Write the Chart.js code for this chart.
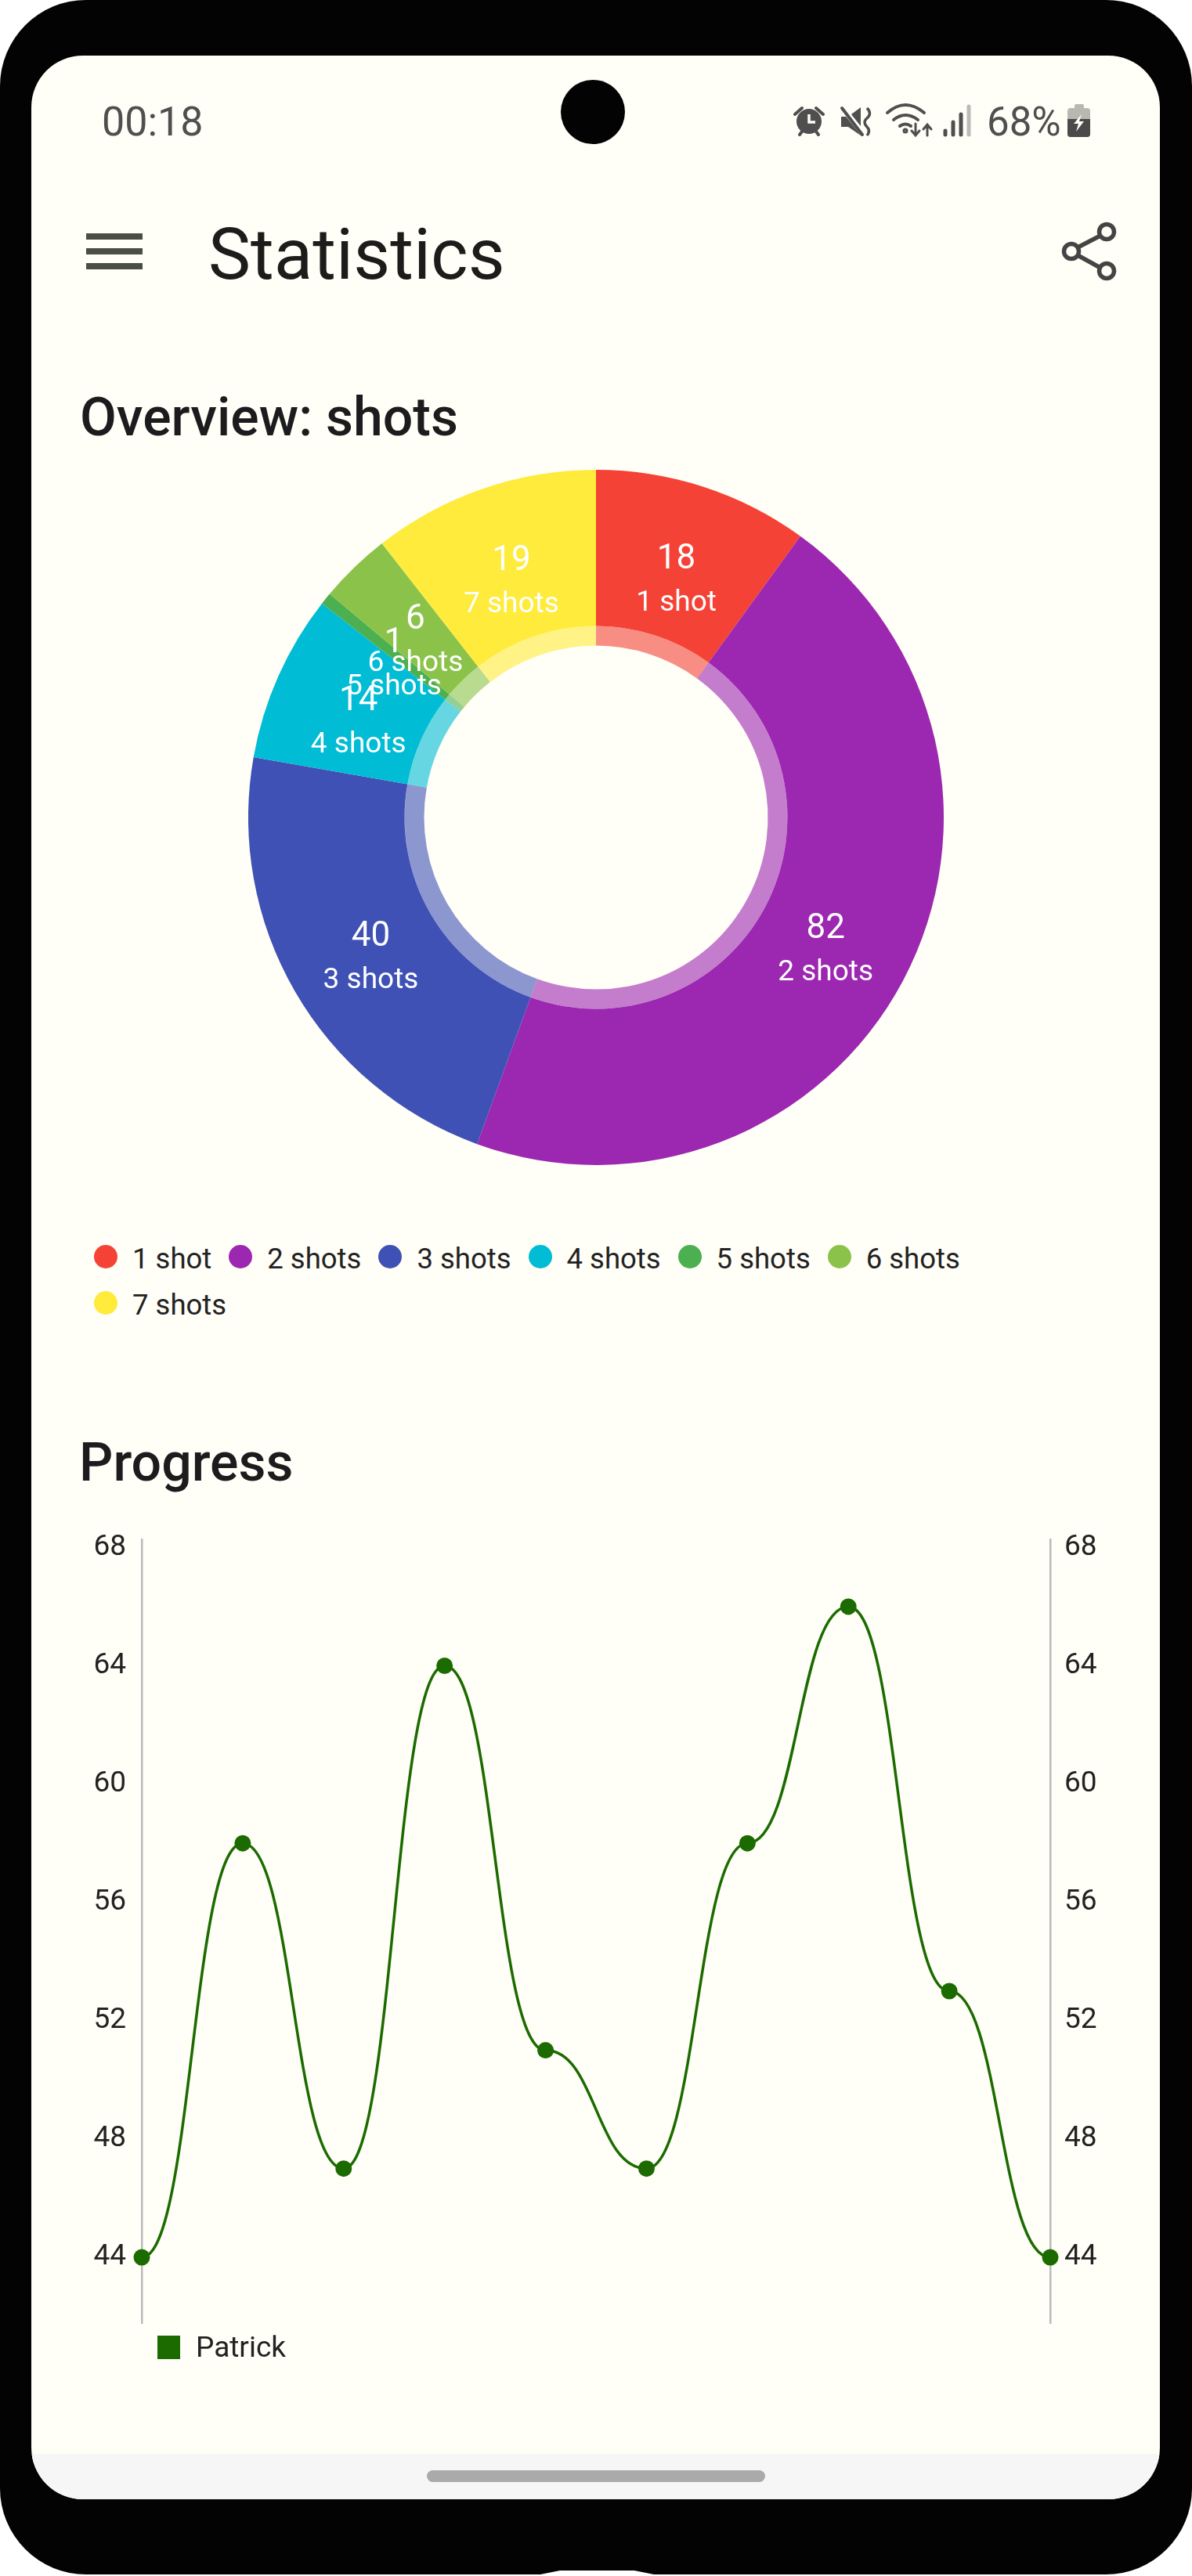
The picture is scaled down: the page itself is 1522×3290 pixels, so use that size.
<!DOCTYPE html>
<html>
<head>
<meta charset="utf-8">
<title>Statistics</title>
<script src="https://cdn.jsdelivr.net/npm/chart.js@4"></script>
<style>
  html, body { margin: 0; padding: 0; background: #fff; }
  body { position: relative; width: 1522px; height: 3290px; overflow: hidden; font-family: Roboto, sans-serif; }
  #phone { position: absolute; left: 0; top: 0; width: 1522px; height: 3288px; background: #030303; border-radius: 110px; }
  #screen { position: absolute; left: 40px; top: 71px; width: 1441px; height: 3121px; background: #fffef7; border-radius: 66px; overflow: hidden; }
  #navbar { position: absolute; left: 0; top: 3063px; width: 1441px; height: 58px; background: #f6f6f6; }
  #homebar { position: absolute; left: 505px; top: 21px; width: 432px; height: 15px; background: #aaa; border-radius: 8px; }
  #chrome { position: absolute; left: 0; top: 0; }
  .txt { position: absolute; line-height: 1; white-space: nowrap; }
  canvas { position: absolute; }
  #shotLegend { position: absolute; left: 120px; top: 1578px; width: 1200px; display: flex; flex-wrap: wrap; font-size: 36.5px; line-height: 59px; color: #222; }
  #shotLegend .item { display: flex; align-items: center; margin-right: 22px; }
  #shotLegend .dot { width: 30px; height: 30px; border-radius: 50%; margin: -5px 19px 0 0; }
  #playerLegend { position: absolute; left: 201px; top: 2983px; display: flex; align-items: center; font-size: 37px; line-height: 30px; color: #222; }
  #playerLegend .box { width: 29px; height: 30px; margin-right: 20px; }
</style>
</head>
<body>
<div id="phone"></div>
<div id="screen"><div id="navbar"><div id="homebar"></div></div></div>

<svg id="chrome" width="1522" height="3290" viewBox="0 0 1522 3290">
  <polygon points="680,3290 715,3283 810,3283 845,3290" fill="#fff"/>
  <circle cx="757" cy="143" r="41" fill="#030303"/>
  <!-- alarm -->
  <g fill="#4f4f4f" stroke="#4f4f4f">
    <circle cx="1033" cy="155" r="16" stroke="none"/>
    <path d="M1015 146 L1024 138 M1051 146 L1042 138 M1021 172 L1024 168 M1045 172 L1042 168" stroke-width="4" stroke-linecap="round" fill="none"/>
    <path d="M1033 146 V156 H1041" stroke="#fffef7" stroke-width="3.5" fill="none"/>
  </g>
  <!-- mute -->
  <g fill="#4f4f4f" stroke="#4f4f4f">
    <path d="M1074 149 H1083 L1099 137 V173 L1083 162 H1074 Z" stroke="none"/>
    <path d="M1076 138 L1104 173" stroke="#fffef7" stroke-width="7"/>
    <path d="M1075 138 L1101 172" stroke-width="4" stroke-linecap="round"/>
    <path d="M1107 138 Q1114 145 1107 151 Q1101 156 1107 162 Q1112 167 1107 173" stroke-width="3.5" fill="none"/>
  </g>
  <!-- wifi -->
  <g fill="none" stroke="#4f4f4f" stroke-width="4" stroke-linecap="round">
    <path d="M1133 144 Q1156 124 1180 144"/>
    <path d="M1141 153 Q1156 141 1172 153"/>
    <path d="M1149 161 Q1156 156 1163 161"/>
    <circle cx="1156" cy="167" r="1.5"/>
    <path d="M1169 158 V172 M1164 167 L1169 173 L1174 167 M1184 173 V160 M1179 165 L1184 159 L1189 165" stroke-width="3"/>
  </g>
  <!-- signal -->
  <g stroke-width="5" stroke-linecap="round" stroke="#4f4f4f">
    <path d="M1207 167 V172"/><path d="M1217 156 V172"/><path d="M1227 146 V172"/>
    <path d="M1237 136 V172" stroke="#bbb"/>
  </g>
  <!-- battery -->
  <rect x="1372" y="133" width="12" height="6" rx="2" fill="#b8b8b0"/>
  <rect x="1363" y="138" width="29" height="37" rx="4" fill="#b8b8b0"/>
  <path d="M1363 152 H1392 V171 a4 4 0 0 1 -4 4 H1367 a4 4 0 0 1 -4 -4 Z" fill="#4a4a4a"/>
  <path d="M1381 146 L1371 158 H1377 L1374 168 L1384 155 H1378 Z" fill="#fffef7"/>
  <!-- menu -->
  <g fill="#4a4f45">
    <rect x="110" y="298" width="72" height="8"/>
    <rect x="110" y="317" width="72" height="8"/>
    <rect x="110" y="336" width="72" height="8"/>
  </g>
  <!-- share -->
  <g fill="none" stroke="#444" stroke-width="5.5">
    <path d="M1376 316 L1405 301 M1376 326 L1405 342"/>
    <circle cx="1413" cy="296" r="9.5"/>
    <circle cx="1368" cy="321" r="9.5"/>
    <circle cx="1413" cy="346" r="9.5"/>
  </g>
</svg>

<div class="txt" style="left:130px;top:130px;font-size:52px;color:#4f4f4f">00:18</div>
<div class="txt" style="left:1260px;top:130px;font-size:51px;color:#4f4f4f">68%</div>
<div class="txt" style="left:266px;top:280px;font-size:91px;color:#1c1c1a">Statistics</div>
<div class="txt" style="left:102px;top:499px;font-size:68px;font-weight:500;color:#1c1c1e">Overview: shots</div>
<div class="txt" style="left:101px;top:1834px;font-size:68px;font-weight:500;color:#1c1c1e">Progress</div>

<canvas id="shotsChart" width="888" height="888" style="left:317px;top:600px"></canvas>
<div id="shotLegend"></div>

<canvas id="progressChart" width="1322" height="1086" style="left:100px;top:1924px"></canvas>
<div id="playerLegend"></div>

<script>
// shots overview
const shotLabels = ['1 shot', '2 shots', '3 shots', '4 shots', '5 shots', '6 shots', '7 shots'];
const shotCounts = [18, 82, 40, 14, 1, 6, 19];
const shotColors = ['#F44336', '#9C27B0', '#3F51B5', '#00BCD4', '#4CAF50', '#8BC34A', '#FFEB3B'];

// progress
const playerName = 'Patrick';
const playerColor = '#1b6b00';
const gameLabels = ['1', '2', '3', '4', '5', '6', '7', '8', '9', '10'];
const playerScores = [44, 58, 47, 64, 51, 47, 58, 66, 53, 44];
const scoreTicks = [44, 48, 52, 56, 60, 64, 68];

Chart.defaults.font.family = 'Roboto';
Chart.defaults.animation = false;

// value and name inside each slice, they overlap on the small slices like the app does
const sliceText = {
  id: 'sliceText',
  afterDatasetsDraw(chart) {
    const ctx = chart.ctx;
    ctx.save();
    ctx.fillStyle = '#fff';
    ctx.textAlign = 'center';
    ctx.textBaseline = 'alphabetic';
    chart.getDatasetMeta(0).data.forEach((arc, i) => {
      const mid = (arc.startAngle + arc.endAngle) / 2;
      const x = arc.x + Math.cos(mid) * 332;
      const y = arc.y + Math.sin(mid) * 332;
      ctx.font = '44px Roboto';
      ctx.fillText(shotCounts[i], x, y - 2);
      ctx.font = '37px Roboto';
      ctx.fillText(shotLabels[i], x, y + 52);
    });
    ctx.restore();
  }
};

new Chart(document.getElementById('shotsChart'), {
  type: 'doughnut',
  data: {
    labels: shotLabels,
    datasets: [
      { data: shotCounts, backgroundColor: shotColors, borderWidth: 0, weight: 200 },
      { data: shotCounts, backgroundColor: shotColors.map(c => c + '99'), borderWidth: 0, weight: 25 }
    ]
  },
  options: {
    responsive: false,
    devicePixelRatio: 1,
    cutout: 219.5,
    layout: { padding: 0, autoPadding: false },
    plugins: { legend: { display: false }, tooltip: { enabled: false } }
  },
  plugins: [sliceText]
});

document.getElementById('shotLegend').innerHTML = shotLabels.map((label, i) =>
  `<div class="item"><span class="dot" style="background:${shotColors[i]}"></span>${label}</div>`
).join('');

// the app uses horizontal bezier: flat tangent at every point
const flatCurve = {
  id: 'flatCurve',
  beforeDatasetDraw(chart, args) {
    const line = args.meta.dataset;
    line.updateControlPoints(chart.chartArea, 'x');
    const pts = line.points;
    pts.forEach((p, i) => {
      if (pts[i - 1]) { p.cp1x = (pts[i - 1].x + p.x) / 2; p.cp1y = p.y; }
      if (pts[i + 1]) { p.cp2x = (p.x + pts[i + 1].x) / 2; p.cp2y = p.y; }
    });
  }
};

const scoreAxis = (position, padding) => ({
  position,
  min: 41.755,
  max: 68.27,
  afterBuildTicks: scale => { scale.ticks = scoreTicks.map(v => ({ value: v })); },
  afterFit: scale => { scale.width = 81; },
  grid: { drawOnChartArea: false, drawTicks: false },
  border: { color: '#bbbbbb', width: 2.5 },
  ticks: { padding, color: '#222', font: { size: 37 }, autoSkip: false }
});

new Chart(document.getElementById('progressChart'), {
  type: 'line',
  data: {
    labels: gameLabels,
    datasets: [{
      label: playerName,
      data: playerScores,
      borderColor: playerColor,
      backgroundColor: playerColor,
      borderWidth: 3.5,
      tension: 0.4,
      pointRadius: 10.5,
      pointBorderWidth: 0,
      clip: false,
      yAxisID: 'y'
    }]
  },
  options: {
    responsive: false,
    devicePixelRatio: 1,
    layout: { padding: { top: 41, bottom: 41 }, autoPadding: false },
    scales: {
      x: { display: false },
      y: scoreAxis('left', 20),
      y1: scoreAxis('right', 18)
    },
    plugins: { legend: { display: false }, tooltip: { enabled: false } }
  },
  plugins: [flatCurve]
});

document.getElementById('playerLegend').innerHTML =
  `<span class="box" style="background:${playerColor}"></span>${playerName}`;
</script>
</body>
</html>
